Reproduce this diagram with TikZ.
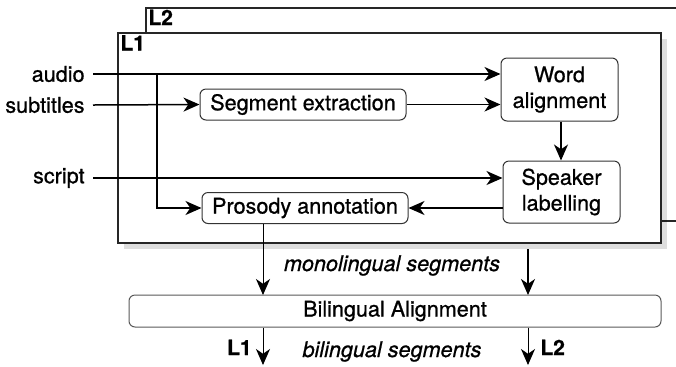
\documentclass[tikz,border=0pt]{standalone}
\usepackage{fontspec}
\setmainfont{TeX Gyre Heros}[FakeBold=0.8]
\newfontfamily\heavyfont{TeX Gyre Heros}[FakeBold=0.8]
\usetikzlibrary{arrows.meta}
\begin{document}
\begin{tikzpicture}[x=0.5pt,y=-0.5pt,
  font=\heavyfont\fontsize{10.8}{12.9}\selectfont,
  arr/.style={line width=0.75pt,-{Stealth[length=8pt,width=7pt,inset=2.4pt]}},
  proc/.style={draw=black!80,line width=0.5pt,rounded corners=3pt,fill=white,align=center,inner sep=0pt},
  txt/.style={inner sep=0pt,inner xsep=4pt},
  grp/.style={draw=black!85,line width=0.6pt,fill=white},
  grplab/.style={inner sep=0pt,font=\fontsize{10.5}{12}\selectfont\bfseries},
  it/.style={inner sep=0pt,font=\heavyfont\fontsize{10.8}{12.9}\selectfont\itshape}]
\useasboundingbox (0,0) rectangle (676,366);
\clip (0,0) rectangle (676,366);
% group L2
\draw[grp] (146,8) rectangle (700,221);
\node[grplab,anchor=base west] (lab2) at (148,25) {L2};
% shadow and group L1
\fill[black,opacity=0.13] (124,39) rectangle (667,249);
\draw[grp] (118,33) rectangle (661,243);
\node[grplab,anchor=base west] (lab1) at (120,50.5) {L1};
% inputs
\node[txt,anchor=east] (audio) at (93,74) {audio};
\node[txt,anchor=east] (subt) at (93,105) {subtitles};
\node[txt,anchor=east] (script) at (93,178) {script};
% process nodes
\node[proc,minimum width=103pt,minimum height=15.5pt] (seg) at (303,104.5) {Segment extraction};
\node[proc,minimum width=58.5pt,minimum height=31.5pt] (word) at (559.5,89.5) {Word\\alignment};
\node[proc,minimum width=58.5pt,minimum height=31pt] (spk) at (561.5,192) {Speaker\\labelling};
\node[proc,minimum width=103pt,minimum height=15.5pt] (pros) at (305,208) {Prosody annotation};
\node[proc,draw=black!65,minimum width=266pt,minimum height=16pt] (bili) at (395,311) {Bilingual Alignment};
% connectors
\draw[arr] (audio.east) -- (audio.east -| word.west);
\coordinate (br) at (157,74);
\draw[arr] (br) |- (pros.west);
\draw[arr] (subt.east) -- (seg.west);
\draw[arr] (seg.east) -- (seg.east -| word.west);
\draw[arr] (script.east) -- (script.east -| spk.west);
\draw[arr] (word.south -| 561,0) -- (spk.north -| 561,0);
\draw[arr] (spk.west |- pros.east) -- (pros.east);
\coordinate (colL) at (263,295);
\coordinate (colR) at (528,295);
\coordinate (srcR) at (528,249);
\coordinate (outL) at (263,365);
\coordinate (outR) at (528,365);
\draw[arr,line width=0.5pt] (pros.south -| colL) -- (colL);
\draw[arr] (srcR) -- (colR);
\draw[arr,line width=0.5pt] (bili.south -| colL) -- (outL);
\draw[arr,line width=0.5pt] (bili.south -| colR) -- (outR);
% labels
\node[it,anchor=base] (mono) at (392,271) {monolingual segments};
\node[it,anchor=base] (bis) at (392,357) {bilingual segments};
\node[grplab,anchor=base east] (o1) at (252,355) {L1};
\node[grplab,anchor=base west] (o2) at (540,355) {L2};
\end{tikzpicture}
\end{document}
